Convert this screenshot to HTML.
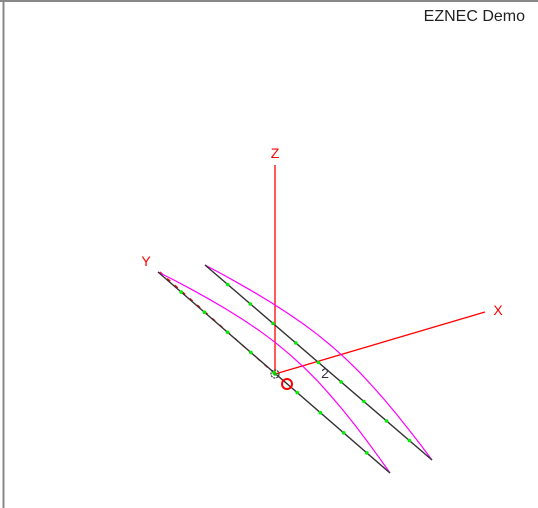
<!DOCTYPE html>
<html><head><meta charset="utf-8"><style>
body{margin:0;background:#fff;width:538px;height:508px;overflow:hidden}
svg{position:absolute;left:0;top:0}
</style></head><body>
<svg id="c" width="538" height="508">
<line x1="3.5" y1="0" x2="3.5" y2="508" stroke="#888" stroke-width="2"/>
<line x1="0" y1="1" x2="538" y2="1" stroke="#888" stroke-width="2"/>
<text x="525" y="21" text-anchor="end" font-family="Liberation Sans, sans-serif" font-size="16" fill="#222">EZNEC Demo</text>
</svg>
<script>
// wire endpoints (screen coords of projected geometry)
const wireStartX=[158,205], wireStartY=[272,265], wireEndX=[390,432], wireEndY=[473,460];
// relative current magnitude along each wire (segments)
const currentMag=[0,0.2,0.38,0.55,0.7,0.82,0.92,0.98,1,0.98,0.92,0.82,0.7,0.55,0.38,0.2,0];
const currentScale=[24,21];
const segCount=10;
const svg=document.getElementById('c');
const NS='http://www.w3.org/2000/svg';
function mk(t,a){const e=document.createElementNS(NS,t);for(const k in a)e.setAttribute(k,a[k]);svg.appendChild(e);return e;}
const O=[275,374];
let e;
e=mk('line',{x1:O[0],y1:O[1],x2:275,y2:165,stroke:'#f00','stroke-width':1.3});


e=mk('line',{x1:O[0],y1:O[1],x2:485,y2:312,stroke:'#f00','stroke-width':1.3});


e=mk('line',{x1:O[0],y1:O[1],x2:160,y2:272,stroke:'#f00','stroke-width':1.3,'stroke-dasharray':'4 6'});


const labs=[['Z',275,158],['X',498,315],['Y',146,266]];
labs.forEach(l=>{e=mk('text',{x:l[1],y:l[2],'text-anchor':'middle','font-family':'Liberation Sans, sans-serif','font-size':14,fill:'#f00'});e.textContent=l[0];

});
for(let w=0;w<wireStartX.length;w++){
 const x0=wireStartX[w],y0=wireStartY[w],x1=wireEndX[w],y1=wireEndY[w];
 const dx=x1-x0,dy=y1-y0,L=Math.hypot(dx,dy),nx=dy/L,ny=-dx/L;
 let pts=[];
 for(let i=0;i<currentMag.length;i++){const t=i/(currentMag.length-1);const m=currentMag[i]*currentScale[w];
  pts.push((x0+dx*t+nx*m).toFixed(1)+','+(y0+dy*t+ny*m).toFixed(1));}
 e=mk('polyline',{points:pts.join(' '),fill:'none',stroke:'#f0f','stroke-width':1.2});
 
 
 e=mk('line',{x1:x0,y1:y0,x2:x1,y2:y1,stroke:'#333','stroke-width':1.4});
 
 
 for(let i=1;i<segCount;i++){const t=i/segCount;
  e=mk('circle',{cx:x0+dx*t,cy:y0+dy*t,r:1.8,fill:'#0e0'});
  
  }
}
e=mk('circle',{cx:275,cy:374,r:4,fill:'none',stroke:'#333','stroke-width':1.2,'stroke-dasharray':'2 1'});


e=mk('circle',{cx:275,cy:374,r:1.8,fill:'#0c0'});


e=mk('circle',{cx:287,cy:384,r:5,fill:'none',stroke:'#f00','stroke-width':2});


e=mk('text',{x:325,y:378,'text-anchor':'middle','font-family':'Liberation Sans, sans-serif','font-size':14,fill:'#334'});
e.textContent='2';


</script>
</body></html>
